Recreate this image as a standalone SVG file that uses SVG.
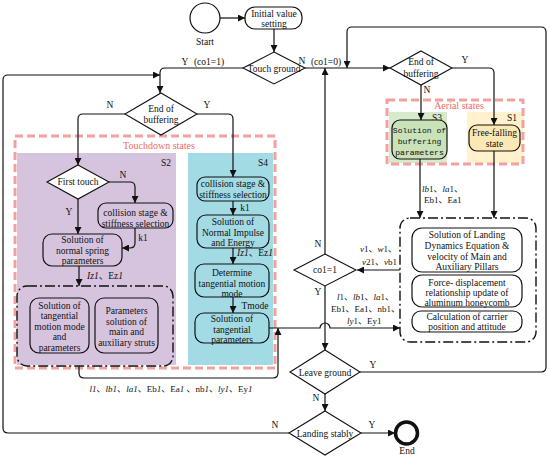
<svg xmlns="http://www.w3.org/2000/svg" width="550" height="456" viewBox="0 0 550 456">
<defs>
<style>
.t{font-family:"Liberation Serif","Noto Sans CJK SC",serif;font-size:9.5px;fill:#111;text-anchor:middle}
.ts{font-family:"Liberation Serif","Noto Sans CJK SC",serif;font-size:9px;fill:#111}
.m{font-family:"Liberation Mono",monospace;font-size:8.1px;fill:#111;text-anchor:middle}
.red{font-family:"Liberation Serif",serif;font-size:10px;fill:#f26a66;text-anchor:middle}
.box{fill:none;stroke:#111;stroke-width:1.2}
.wbox{fill:#fff;stroke:#111;stroke-width:1.2}
.dia{fill:#fff;stroke:#111;stroke-width:1.1}
.pink{fill:none;stroke:#f3a0a0;stroke-width:3;stroke-dasharray:8,4}
.dd{fill:none;stroke:#111;stroke-width:1.4;stroke-dasharray:10,3,2,3}
.c{fill:none;stroke:#111;stroke-width:1.2}
.i{font-style:italic}
</style>
<marker id="arr" viewBox="0 0 10 10" refX="10" refY="5" markerWidth="8" markerHeight="7" orient="auto" markerUnits="userSpaceOnUse"><path d="M0,0 L10,5 L0,10 z" fill="#111"/></marker>
</defs>

<!-- regions -->
<g id="touchdown-states">
<rect x="17" y="153" width="159" height="212" fill="#d6c4df"/>
<rect x="188" y="153" width="85" height="212" fill="#a3dbe5"/>
<rect class="pink" x="15" y="136" width="260" height="232"/>
<text class="red" x="159" y="149">Touchdown states</text>
<text class="t" x="166" y="166">S2</text>
<text class="t" x="263" y="166">S4</text>
</g>
<g id="aerial-states">
<rect x="389" y="112" width="58" height="51" fill="#d8e9cc"/>
<rect x="467" y="112" width="56" height="51" fill="#fff2cc"/>
<rect class="pink" x="387" y="100" width="136" height="64"/>
<text class="red" x="459" y="109">Aerial states</text>
<text class="t" x="437" y="121">S3</text>
<text class="t" x="512" y="121">S1</text>
</g>

<!-- connectors -->
<g id="connectors" class="c">
<path d="M220,18 L245,18" marker-end="url(#arr)"/>
<path d="M274,29 L274,52" marker-end="url(#arr)"/>
<path d="M243,68 L165,68 Q160,68 160,73 L160,93" marker-end="url(#arr)"/>
<path d="M305,68 L390,68" marker-end="url(#arr)"/>
<path d="M289,433 L8,433 Q3,433 3,428 L3,80 Q3,75 8,75 L160,75" marker-end="url(#arr)"/>
<path d="M125,114 L83,114 Q78,114 78,119 L78,165" marker-end="url(#arr)"/>
<path d="M197,114 L228,114 Q233,114 233,119 L233,177" marker-end="url(#arr)"/>
<path d="M109,182 L130,182 Q135,182 135,187 L135,203" marker-end="url(#arr)"/>
<path d="M78,199 L78,234" marker-end="url(#arr)"/>
<path d="M135,228 L135,243 Q135,248 130,248 L122,248" marker-end="url(#arr)"/>
<path d="M79,266 L79,286" marker-end="url(#arr)"/>
<path d="M79,366 L79,373 Q79,378 84,378 L273,378 Q278,378 278,373 L278,328" marker-end="url(#arr)"/>
<path d="M233,201 L233,215" marker-end="url(#arr)"/>
<path d="M233,248 L233,264" marker-end="url(#arr)"/>
<path d="M233,297 L233,313" marker-end="url(#arr)"/>
<path d="M269,328 L320,328 A5,5 0 0 1 330,328 L400,328" marker-end="url(#arr)"/>
<path d="M421,85 L421,120" marker-end="url(#arr)"/>
<path d="M452,68 L489,68 Q494,68 494,73 L494,125" marker-end="url(#arr)"/>
<path d="M420,159 L420,218" marker-end="url(#arr)"/>
<path d="M494,151 L494,218" marker-end="url(#arr)"/>
<path d="M400,270 L357,270" marker-end="url(#arr)"/>
<path d="M325,254 L325,68" marker-end="url(#arr)"/>
<path d="M325,286 L325,350" marker-end="url(#arr)"/>
<path d="M360,372 L541,372 Q546,372 546,367 L546,32 Q546,27 541,27 L352,27 Q347,27 347,32 L347,68" marker-end="url(#arr)"/>
<path d="M325,394 L325,411" marker-end="url(#arr)"/>
<path d="M361,433 L395,433" marker-end="url(#arr)"/>
</g>

<!-- connector labels -->
<g id="labels">
<text class="t" x="185" y="65">Y</text>
<text class="t" x="209" y="65">(co1=1)</text>
<text class="t" x="302" y="64">N</text>
<text class="t" x="326" y="65">(co1=0)</text>
<text class="t" x="465" y="63">Y</text>
<text class="t" x="427" y="93">N</text>
<text class="t" x="110" y="108">N</text>
<text class="t" x="207" y="108">Y</text>
<text class="t" x="123" y="178">N</text>
<text class="t" x="69" y="215">Y</text>
<text class="t" x="143" y="241">k1</text>
<text class="t" x="105" y="279"><tspan class="i">Iz1</tspan>、Ez<tspan class="i">1</tspan></text>
<text class="t" x="245" y="211">k1</text>
<text class="t" x="255" y="256"><tspan class="i">Iz1</tspan>、Ez<tspan class="i">1</tspan></text>
<text class="t" x="255" y="309">Tmode</text>
<text class="ts" x="422" y="192"><tspan class="i">lb</tspan>1、<tspan class="i">la</tspan>1、</text>
<text class="ts" x="424" y="203">Eb1、Ea1</text>
<text class="ts" x="397" y="252" text-anchor="end"><tspan class="i">v</tspan>1、<tspan class="i">w</tspan>1、</text>
<text class="ts" x="397" y="265" text-anchor="end"><tspan class="i">v</tspan>21、<tspan class="i">v</tspan>b1</text>
<text class="t" x="318" y="247">N</text>
<text class="t" x="318" y="295">Y</text>
<text class="ts" x="337" y="300"><tspan class="i">l</tspan>1、<tspan class="i">lb</tspan>1、<tspan class="i">la</tspan>1、</text>
<text class="ts" x="331" y="312">Eb1、Ea1、nb1、</text>
<text class="ts" x="347" y="324"><tspan class="i">ly</tspan>1、Ey1</text>
<text class="ts" x="171" y="392" text-anchor="middle"><tspan class="i">l1</tspan>、<tspan class="i">lb1</tspan>、<tspan class="i">la1</tspan>、Eb<tspan class="i">1</tspan>、Ea<tspan class="i">1</tspan> 、nb<tspan class="i">1</tspan>、<tspan class="i">ly1</tspan>、Ey<tspan class="i">1</tspan></text>
<text class="t" x="373" y="368">Y</text>
<text class="t" x="316" y="401">N</text>
<text class="t" x="275" y="428">N</text>
<text class="t" x="372" y="428">Y</text>
</g>

<!-- nodes -->
<g id="start">
<circle cx="205" cy="18" r="15" fill="#fff" stroke="#111" stroke-width="1.2"/>
<text class="t" x="205" y="45">Start</text>
</g>
<g id="initial-value">
<rect class="wbox" x="245" y="7" width="57" height="22" rx="10"/>
<text class="t" x="274" y="16.5">Initial value</text>
<text class="t" x="274" y="27">setting</text>
</g>
<g id="touch-ground">
<polygon class="dia" points="274,52 305,68 274,84 243,68"/>
<text class="t" x="274" y="71.5">Touch ground</text>
</g>
<g id="end-of-buffering-air">
<polygon class="dia" points="421,51 452,68 421,85 390,68"/>
<text class="t" x="421" y="65">End of</text>
<text class="t" x="421" y="76.5">buffering</text>
</g>
<g id="solution-buffering">
<rect x="392" y="120" width="55" height="39" rx="8" fill="#c9e2b8" stroke="#111" stroke-width="1.2"/>
<text class="m" x="419.5" y="133">Solution of</text>
<text class="m" x="419.5" y="144">buffering</text>
<text class="m" x="419.5" y="155">parameters</text>
</g>
<g id="free-falling">
<rect x="469" y="125" width="51" height="26" rx="8" fill="#fce8b4" stroke="#111" stroke-width="1.2"/>
<text class="t" x="494.5" y="136">Free-falling</text>
<text class="t" x="494.5" y="147">state</text>
</g>
<g id="end-of-buffering-ground">
<polygon class="dia" points="161,93 197,114 161,135 125,114"/>
<text class="t" x="161" y="111.5">End of</text>
<text class="t" x="161" y="122.5">buffering</text>
</g>
<g id="first-touch">
<polygon class="dia" points="78,165 109,182 78,199 47,182"/>
<text class="t" x="78" y="185">First touch</text>
</g>
<g id="s2-collision">
<rect class="box" x="98" y="203" width="75" height="25" rx="8"/>
<text class="t" x="135.5" y="216">collision stage &amp;</text>
<text class="t" x="135.5" y="226.5">stiffness selection</text>
</g>
<g id="normal-spring">
<rect class="box" x="43" y="234" width="79" height="32" rx="9"/>
<text class="t" x="82.5" y="242.5">Solution of</text>
<text class="t" x="82.5" y="253.5">normal spring</text>
<text class="t" x="82.5" y="264">parameters</text>
</g>
<g id="s2-group">
<rect class="dd" x="17" y="286" width="156" height="80" rx="10"/>
<rect class="box" x="30" y="298" width="59" height="55" rx="9"/>
<text class="t" x="59.5" y="308.5">Solution of</text>
<text class="t" x="59.5" y="319">tangential</text>
<text class="t" x="59.5" y="329.5">motion mode</text>
<text class="t" x="59.5" y="340">and</text>
<text class="t" x="59.5" y="351">parameters</text>
<rect class="box" x="95" y="298" width="63" height="55" rx="9"/>
<text class="t" x="126.5" y="313.5">Parameters</text>
<text class="t" x="126.5" y="324.5">solution of</text>
<text class="t" x="126.5" y="335">main and</text>
<text class="t" x="126.5" y="345.5">auxiliary struts</text>
</g>
<g id="s4-collision">
<rect class="box" x="197" y="177" width="72" height="24" rx="8"/>
<text class="t" x="233" y="186.5">collision stage &amp;</text>
<text class="t" x="233" y="198">stiffness selection</text>
</g>
<g id="normal-impulse">
<rect class="box" x="197" y="215" width="72" height="33" rx="9"/>
<text class="t" x="233" y="224.5">Solution of</text>
<text class="t" x="233" y="235.5">Normal Impulse</text>
<text class="t" x="233" y="246">and Energy</text>
</g>
<g id="tangential-mode">
<rect class="box" x="195" y="264" width="74" height="33" rx="9"/>
<text class="t" x="232" y="275.5">Determine</text>
<text class="t" x="232" y="286.5">tangential motion</text>
<text class="t" x="232" y="296.5">mode</text>
</g>
<g id="tangential-params">
<rect class="box" x="195" y="313" width="74" height="30" rx="9"/>
<text class="t" x="232" y="321.5">Solution of</text>
<text class="t" x="232" y="332.5">tangential</text>
<text class="t" x="232" y="342.5">parameters</text>
</g>
<g id="dynamics-group">
<rect class="dd" x="400" y="218" width="136" height="124" rx="10"/>
<rect class="wbox" x="412" y="228" width="110" height="44" rx="10"/>
<text class="t" x="467" y="237.5">Solution of Landing</text>
<text class="t" x="467" y="248.5">Dynamics Equation &amp;</text>
<text class="t" x="467" y="259.5">velocity of Main and</text>
<text class="t" x="467" y="269.5">Auxiliary Pillars</text>
<rect class="wbox" x="412" y="275" width="110" height="32" rx="10"/>
<text class="t" x="467" y="285.5">Force- displacement</text>
<text class="t" x="467" y="295.5">relationship update of</text>
<text class="t" x="467" y="305.5">aluminum honeycomb</text>
<rect class="wbox" x="412" y="311" width="110" height="21" rx="9"/>
<text class="t" x="467" y="319.5">Calculation of carrier</text>
<text class="t" x="467" y="330">position and attitude</text>
</g>
<g id="co1">
<polygon class="dia" points="325,254 356,270 325,286 294,270"/>
<text class="t" x="325" y="273">co1=1</text>
</g>
<g id="leave-ground">
<polygon class="dia" points="325,350 360,372 325,394 290,372"/>
<text class="t" x="325" y="375.5">Leave ground</text>
</g>
<g id="landing-stably">
<polygon class="dia" points="325,411 361,433 325,455 289,433"/>
<text class="t" x="325" y="436.5">Landing stably</text>
</g>
<g id="end">
<circle cx="406.5" cy="433" r="11" fill="#fff" stroke="#111" stroke-width="3.5"/>
<text class="t" x="407" y="454">End</text>
</g>
</svg>
